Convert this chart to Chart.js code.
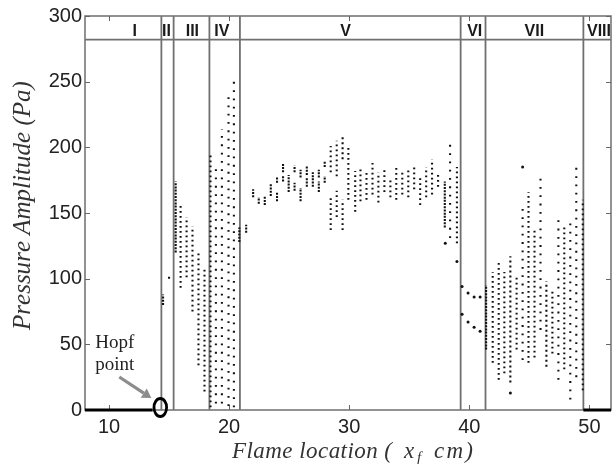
<!DOCTYPE html>
<html>
<head>
<meta charset="utf-8">
<script src="https://cdn.jsdelivr.net/npm/chart.js@4.4.1/dist/chart.umd.min.js"></script>
<style>
html,body{margin:0;padding:0;background:#fff;}
canvas{display:block;}
</style>
</head>
<body>
<canvas id="c" width="615" height="464"></canvas>
<script>
// ---- data ----
const xTicks = [10, 20, 30, 40, 50];
const yTicks = [0, 50, 100, 150, 200, 250, 300];
const regionNames = ['I','II','III','IV','V','VI','VII','VIII'];
const regionBounds = [14.36, 15.38, 18.36, 20.9, 39.28, 41.35, 49.5];
const regionLabelX = [12.14, 14.79, 16.94, 19.4, 29.7, 40.45, 45.42, 50.8];
const headerBottom = 282;
const headerLabelY = 288;

// stable (zero amplitude) branches
const zeroLeftX = [8, 13.63];
const zeroRightX = [49.5, 51.8];

// columns of measured amplitudes: x location, lowest and highest value, dot density
const colX  = [14.5,15.0,15.55,15.96,16.46,16.95,17.45,17.95,
               18.45,18.9,19.4,19.95,20.4,20.85,21.42,
               22.0,22.47,22.97,23.47,23.99,23.99,24.49,24.49,24.96,25.45,25.45,25.95,25.95,
               26.47,26.47,26.97,27.47,27.47,27.96,27.96,28.46,28.46,28.96,28.96,29.45,29.45,
               29.93,30.5,30.5,30.94,31.44,31.94,32.43,32.93,33.43,33.92,34.42,34.92,35.41,
               35.91,36.41,36.9,37.4,37.96,38.4,38.97,
               41.4,41.95,42.45,42.92,43.42,43.94,44.44,44.93,45.43,45.93,46.42,46.92,47.42,
               47.91,48.41,48.91,49.45];
const colLo = [80,100,120,93,101,75,34,14,
               2,5,5,3,2,128,135,
               162,157,156,163,173,159,181,174,166,181,167,177,159,
               179,170,170,177,166,185,173,181,137,178,147,191,137,
               160,166,151,159,160,164,158,166,162,160,164,162,168,
               156,162,164,170,139,131,127,
               46,36,23,28,21,46,38,36,40,61,33,43,23,
               31,8,25,15];
const colHi = [88,102,174,156,147,140,120,108,
               196,185,214,242,254,139,141,
               168,162,163,172,177,166,188,178,179,186,173,183,169,
               186,177,181,183,174,189,178,201,162,205,167,210,160,
               200,182,164,185,183,188,181,185,177,185,183,183,185,
               179,185,191,181,174,202,185,
               95,105,113,105,117,102,155,166,137,177,98,90,145,
               140,143,189,160];
const colDensity = ['d','d','d','m','m','m','m','m',
               'm','s','s','s','s','d','d',
               'd','d','d','d','d','d','d','d','d','d','d','d','d',
               'd','d','d','d','d','d','d','m','m','m','m','m','m',
               'm','m','m','m','m','m','m','m','m','m','m','m','m',
               'm','m','m','m','d','s','m',
               'd','m','m','m','m','m','s','m','m','s','m','m','s',
               'm','s','s','m'];

// isolated points
const dotX = [38.0, 38.97, 39.4, 39.4, 39.9, 39.9, 40.4, 40.4, 40.9, 40.9, 43.42, 44.44];
const dotY = [127, 113, 94, 73, 89, 67, 86, 63, 86, 60, 13, 185];

// Hopf point annotation
const hopfX = 14.27;
const hopfY = 0;

// ---- build datasets ----
function columnData(code){
  const out = [];
  colX.forEach((x,i)=>{
    if(colDensity[i]!==code) return;
    out.push({x:x,y:colLo[i]},{x:x,y:colHi[i]},{x:x,y:null});
  });
  return out;
}
const dashFor = {d:[2,1.2], m:[1.8,3.2], s:[1.8,6.5]};
const datasets = [];
datasets.push({
  data:[{x:zeroLeftX[0],y:0},{x:zeroLeftX[1],y:0},{x:zeroLeftX[1],y:null},
        {x:zeroRightX[0],y:0},{x:zeroRightX[1],y:0}],
  showLine:true, borderColor:'#000', borderWidth:3, pointRadius:0, spanGaps:false, clip:false
});
['d','m','s'].forEach(code=>{
  datasets.push({
    data:columnData(code), showLine:true, borderColor:'#111', borderWidth:2.1,
    borderDash:dashFor[code], borderCapStyle:'butt', pointRadius:0, spanGaps:false
  });
});
datasets.push({
  data:dotX.map((x,i)=>({x:x,y:dotY[i]})), showLine:false, pointRadius:1.5,
  pointBackgroundColor:'#111', pointBorderWidth:0
});

function drawSpaced(ctx, text, x, y, target){
  const chars = Array.from(text);
  const nat = ctx.measureText(text).width;
  const extra = chars.length>1 ? (target-nat)/(chars.length-1) : 0;
  let cx = x;
  chars.forEach(ch=>{ ctx.fillText(ch, cx, y); cx += ctx.measureText(ch).width + extra; });
}

const decor = {
  id:'decor',
  beforeDatasetsDraw(chart){
    const {ctx, chartArea:a, scales:{x, y}} = chart;
    ctx.save();
    // region boundaries
    ctx.strokeStyle = '#707070'; ctx.lineWidth = 1.8;
    regionBounds.forEach(v=>{
      const px = x.getPixelForValue(v);
      ctx.beginPath(); ctx.moveTo(px, a.top); ctx.lineTo(px, a.bottom); ctx.stroke();
    });
    // header line
    const hy = y.getPixelForValue(headerBottom);
    ctx.beginPath(); ctx.moveTo(a.left, hy); ctx.lineTo(a.right, hy); ctx.stroke();
    // frame
    ctx.strokeStyle = '#777'; ctx.lineWidth = 1.6;
    ctx.strokeRect(a.left, a.top, a.right-a.left, a.bottom-a.top);
    // inward ticks
    ctx.strokeStyle = '#666'; ctx.lineWidth = 1;
    xTicks.forEach(v=>{
      const px = Math.round(x.getPixelForValue(v))+0.5;
      ctx.beginPath(); ctx.moveTo(px, a.bottom); ctx.lineTo(px, a.bottom-5);
      ctx.moveTo(px, a.top); ctx.lineTo(px, a.top+5); ctx.stroke();
    });
    yTicks.forEach(v=>{
      const py = Math.round(y.getPixelForValue(v))+0.5;
      ctx.beginPath(); ctx.moveTo(a.left, py); ctx.lineTo(a.left+5, py);
      ctx.moveTo(a.right, py); ctx.lineTo(a.right-5, py); ctx.stroke();
    });
    // region labels
    ctx.fillStyle = '#1a1a1a';
    ctx.font = 'bold 16px "Liberation Sans", Arial, sans-serif';
    ctx.textAlign = 'center'; ctx.textBaseline = 'middle';
    const ly = y.getPixelForValue(headerLabelY);
    regionNames.forEach((n,i)=>{ ctx.fillText(n, x.getPixelForValue(regionLabelX[i]), ly); });
    ctx.restore();
  },
  afterDraw(chart){
    const {ctx, scales:{x, y}} = chart;
    ctx.save();
    // Hopf circle
    const cx = x.getPixelForValue(hopfX), cy = y.getPixelForValue(hopfY);
    ctx.strokeStyle = '#000'; ctx.lineWidth = 2.8;
    ctx.beginPath(); ctx.ellipse(cx, cy-2.5, 6.3, 9, 0, 0, Math.PI*2); ctx.stroke();
    // arrow
    const sx = cx-41, sy = cy-33, ex = cx-9, ey = cy-12;
    ctx.strokeStyle = '#8c8c8c'; ctx.fillStyle = '#8c8c8c'; ctx.lineWidth = 3.2;
    const ang = Math.atan2(ey-sy, ex-sx);
    const bx = ex - 9*Math.cos(ang), by = ey - 9*Math.sin(ang);
    ctx.beginPath(); ctx.moveTo(sx, sy); ctx.lineTo(bx, by); ctx.stroke();
    ctx.beginPath();
    ctx.moveTo(ex, ey);
    ctx.lineTo(bx + 5.5*Math.sin(ang), by - 5.5*Math.cos(ang));
    ctx.lineTo(bx - 5.5*Math.sin(ang), by + 5.5*Math.cos(ang));
    ctx.closePath(); ctx.fill();
    // Hopf text
    ctx.fillStyle = '#222';
    ctx.font = '19px "Liberation Serif", "Times New Roman", serif';
    ctx.textAlign = 'left'; ctx.textBaseline = 'alphabetic';
    ctx.fillText('Hopf', cx-65, cy-62);
    ctx.fillText('point', cx-65, cy-40);
    // y title
    ctx.fillStyle = '#333';
    ctx.font = 'italic 25px "Liberation Serif", "Times New Roman", serif';
    ctx.save();
    ctx.translate(30, 330); ctx.rotate(-Math.PI/2);
    drawSpaced(ctx, 'Pressure Amplitude (Pa)', 0, 0, 247);
    ctx.restore();
    // x title
    ctx.font = 'italic 23px "Liberation Serif", "Times New Roman", serif';
    drawSpaced(ctx, 'Flame location (', 232, 458, 160);
    ctx.fillText('x', 404, 458);
    ctx.font = 'italic 15px "Liberation Serif", "Times New Roman", serif';
    ctx.fillText('f', 417, 462);
    ctx.font = 'italic 23px "Liberation Serif", "Times New Roman", serif';
    drawSpaced(ctx, 'cm)', 434, 458, 39);
    ctx.restore();
  }
};

new Chart(document.getElementById('c'), {
  type:'scatter',
  data:{datasets:datasets},
  options:{
    responsive:false, animation:false, devicePixelRatio:1,
    layout:{padding:{top:16, right:1, left:0, bottom:0}},
    plugins:{legend:{display:false}, tooltip:{enabled:false}},
    scales:{
      x:{type:'linear', min:8, max:51.8,
         afterBuildTicks:s=>{ s.ticks = xTicks.map(v=>({value:v})); },
         afterFit:s=>{ s.height = 54; },
         grid:{display:false, drawTicks:false}, border:{display:false},
         ticks:{font:{family:'"Liberation Sans", Arial, sans-serif', size:20}, color:'#222', padding:5, maxRotation:0}},
      y:{type:'linear', min:0, max:300,
         afterBuildTicks:s=>{ s.ticks = yTicks.map(v=>({value:v})); },
         afterFit:s=>{ s.width = 85; },
         grid:{display:false, drawTicks:false}, border:{display:false},
         ticks:{font:{family:'"Liberation Sans", Arial, sans-serif', size:20}, color:'#222', padding:3}}
    }
  },
  plugins:[decor]
});
</script>
</body>
</html>
